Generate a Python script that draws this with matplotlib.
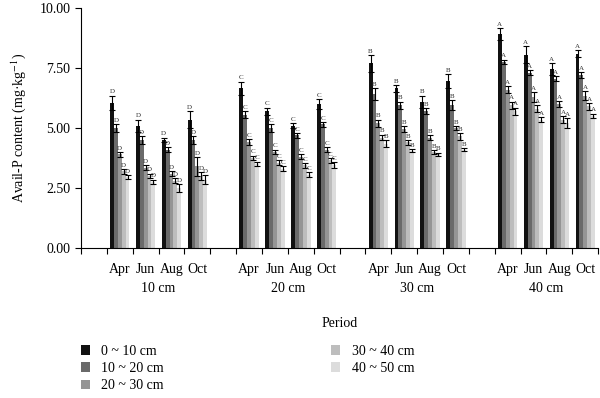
import matplotlib
matplotlib.use("Agg")
import matplotlib.pyplot as plt
import numpy as np
from matplotlib.patches import Patch

plt.rcParams['font.family'] = ['Liberation Serif', 'DejaVu Serif']
plt.rcParams['mathtext.fontset'] = 'stix'

groups = ['10 cm', '20 cm', '30 cm', '40 cm']
months = ['Apr', 'Jun', 'Aug', 'Oct']
layers = ['0 ~ 10 cm', '10 ~ 20 cm', '20 ~ 30 cm', '30 ~ 40 cm', '40 ~ 50 cm']
letters = ['D', 'C', 'B', 'A']
colors = ['#111111', '#6a6a6a', '#959595', '#bdbdbd', '#dcdcdc']

# values[group][month] -> one value per soil layer
g10 = [[6.05, 5.0, 3.9, 3.2, 2.95],
       [5.1, 4.5, 3.35, 3.0, 2.75],
       [4.5, 4.1, 3.1, 2.8, 2.5],
       [5.35, 4.5, 3.4, 3.0, 2.85]]
g20 = [[6.65, 5.55, 4.4, 3.75, 3.5],
       [5.7, 5.0, 4.0, 3.55, 3.3],
       [5.1, 4.7, 3.8, 3.45, 3.05],
       [6.0, 5.15, 4.1, 3.65, 3.45]]
g30 = [[7.7, 6.4, 5.2, 4.6, 4.35],
       [6.65, 5.95, 4.95, 4.4, 4.05],
       [6.1, 5.7, 4.6, 4.0, 3.9],
       [6.95, 5.95, 5.0, 4.65, 4.1]]
g40 = [[8.9, 7.75, 6.6, 5.95, 5.7],
       [8.05, 7.3, 6.3, 5.8, 5.35],
       [7.45, 7.05, 6.0, 5.35, 5.2],
       [8.1, 7.2, 6.35, 5.9, 5.5]]

e10 = [[0.3, 0.15, 0.1, 0.1, 0.08],
       [0.25, 0.15, 0.1, 0.1, 0.1],
       [0.1, 0.1, 0.1, 0.1, 0.15],
       [0.35, 0.15, 0.4, 0.15, 0.2]]
e20 = [[0.28, 0.15, 0.12, 0.1, 0.1],
       [0.15, 0.15, 0.1, 0.1, 0.1],
       [0.1, 0.1, 0.1, 0.1, 0.1],
       [0.2, 0.1, 0.1, 0.1, 0.12]]
e30 = [[0.35, 0.25, 0.15, 0.12, 0.15],
       [0.15, 0.15, 0.12, 0.1, 0.07],
       [0.25, 0.12, 0.1, 0.08, 0.07],
       [0.3, 0.2, 0.07, 0.15, 0.07]]
e40 = [[0.25, 0.1, 0.15, 0.15, 0.15],
       [0.35, 0.1, 0.2, 0.15, 0.1],
       [0.25, 0.1, 0.12, 0.15, 0.2],
       [0.15, 0.12, 0.2, 0.15, 0.1]]

values = [g10, g20, g30, g40]
errors = [e10, e20, e30, e40]

fig = plt.figure(figsize=(6.0, 3.98), dpi=100)
ax = fig.add_axes([0.135, 0.377, 0.862, 0.603])

bw = 0.15
for g in range(4):
    for m in range(4):
        center = 5 * g + 1 + m + 0.5
        for k in range(5):
            x = center + (k - 2) * bw
            v = values[g][m][k]
            e = errors[g][m][k]
            ax.bar(x, v, width=bw, color=colors[k], linewidth=0)
            ax.errorbar(x, v, yerr=e, fmt='none', ecolor='black',
                        elinewidth=0.8, capsize=2.5, capthick=0.8)
            ax.text(x, v + e + 0.05, letters[g], ha='center', va='bottom',
                    fontsize=5, color='#333333')

ax.set_xlim(0, 20)
ax.set_ylim(0, 10)
ax.set_yticks([0, 2.5, 5, 7.5, 10])
ax.set_yticklabels(['%.2f' % t for t in [0, 2.5, 5, 7.5, 10]], fontsize=10)
ax.set_xticks(np.arange(0, 21))
ax.set_xticklabels([])
ax.tick_params(axis='x', which='major', length=4, width=0.8)
ax.tick_params(axis='y', length=4, width=0.8)
centers = [5 * g + 1 + m + 0.5 for g in range(4) for m in range(4)]
ax.set_xticks(centers, minor=True)
ax.set_xticklabels(months * 4, minor=True, fontsize=10)
ax.tick_params(axis='x', which='minor', length=0, pad=11)
for side in ['top', 'right']:
    ax.spines[side].set_visible(False)
for side in ['left', 'bottom']:
    ax.spines[side].set_linewidth(0.8)

for g in range(4):
    ax.text(5 * g + 3, -0.168, groups[g], transform=ax.get_xaxis_transform(),
            ha='center', va='center', fontsize=10)

ax.set_ylabel('Avail-P content (mg·kg$^{-1}$)', fontsize=10, labelpad=8)
fig.text(0.566, 0.188, 'Period', ha='center', va='center', fontsize=10)

handles = [Patch(facecolor=c, edgecolor='none') for c in colors]
fig.legend(handles, layers, loc='upper left', bbox_to_anchor=(0.125, 0.147),
           ncol=2, frameon=False, fontsize=10, handlelength=0.7,
           handleheight=0.7, handletextpad=0.8, labelspacing=0.3,
           columnspacing=12.0, borderaxespad=0)

plt.savefig('out.png', dpi=100)
